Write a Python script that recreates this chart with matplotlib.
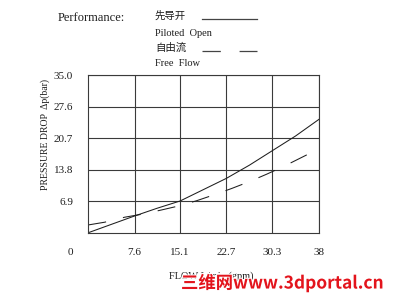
import matplotlib
matplotlib.use('Agg')
import matplotlib.pyplot as plt
import matplotlib.patheffects as pe
from matplotlib.lines import Line2D

plt.rcParams['font.family'] = ['Liberation Serif', 'Noto Sans CJK SC', 'DejaVu Sans']
plt.rcParams['lines.scale_dashes'] = False

# data
x_ticks = [7.6, 15.1, 22.7, 30.3, 38]
x_labels = ['7.6', '15.1', '22.7', '30.3', '38']
y_ticks = [6.9, 13.8, 20.7, 27.6, 34.5]
y_labels = ['6.9', '13.8', '20.7', '27.6', '35.0']

pilot_x = [0, 7.6, 11.3, 15.1, 22.7, 26.5, 30.3, 34.1, 38]
pilot_y = [0, 3.66, 5.35, 6.95, 11.9, 14.8, 18.0, 21.2, 24.9]

free_x = [0, 2.7, 6.0, 9.05, 12.1, 15.0, 17.8, 20.9, 23.6, 26.5, 29.3, 32.1, 34.8, 37.5]
free_y = [1.7, 2.3, 3.4, 4.1, 5.0, 5.9, 7.0, 8.4, 9.7, 11.2, 12.8, 14.5, 16.3, 18.1]

W, H = 401, 294
fig = plt.figure(figsize=(W / 100, H / 100), dpi=100)
ax = fig.add_axes([88.3 / W, 1 - 232.7 / H, 231 / W, 157.4 / H])

ink = '#1e1e1e'
grid_c = '#3a3a3a'

ax.plot(pilot_x, pilot_y, color=ink, lw=0.75)
ax.plot(free_x, free_y, color=ink, lw=0.75, dashes=(13, 12.5))

ax.set_xlim(0, 38)
ax.set_ylim(0, 34.5)
ax.set_xticks(x_ticks)
ax.set_xticklabels(x_labels)
ax.set_yticks(y_ticks)
ax.set_yticklabels(y_labels)
ax.tick_params(length=0, labelsize=8, colors=ink)
ax.tick_params(axis='x', pad=11)
ax.tick_params(axis='y', pad=11)
ax.grid(True, color=grid_c, lw=0.8)
for s in ax.spines.values():
    s.set_color(grid_c)
    s.set_linewidth(0.8)

# the lone "0" at the corner
ax.annotate('0', xy=(0, 0), xytext=(-13.2, -13.9), textcoords='offset points',
            ha='center', va='center', fontsize=8, color=ink)

fig.text(45 / W, 1 - 135 / H, 'PRESSURE DROP  \u0394p(bar)', rotation=90,
         ha='center', va='center', fontsize=7, color=ink)
fig.text(211 / W, 1 - 276 / H, 'FLOW L/min (gpm)', ha='center', va='center',
         fontsize=7.5, color=ink)

# header / legend block
fig.text(58 / W, 1 - 18 / H, 'Performance:', ha='left', va='center', fontsize=9, color=ink)
fig.text(155 / W, 1 - 16 / H, '先导开', ha='left', va='center', fontsize=7.5, color=ink,
         family=['Noto Sans CJK SC'])
fig.text(155 / W, 1 - 33 / H, 'Piloted  Open', ha='left', va='center', fontsize=7.5, color=ink)
fig.text(155 / W, 1 - 48 / H, '自由流', ha='left', va='center', fontsize=7.5, color=ink,
         family=['Noto Sans CJK SC'])
fig.text(155 / W, 1 - 63 / H, 'Free  Flow', ha='left', va='center', fontsize=7.5, color=ink)

fig.add_artist(Line2D([201.7 / W, 256.7 / W], [1 - 18.5 / H, 1 - 18.5 / H],
                      color='#444444', lw=0.9))
fig.add_artist(Line2D([201.7 / W, 256.7 / W], [1 - 51 / H, 1 - 51 / H],
                      color='#444444', lw=0.9, dashes=(13.2, 13.5)))

# site watermark
fig.text(181 / W, 1 - 283 / H, '三维网www.3dportal.cn', ha='left', va='center',
         fontsize=12.5, color='#e3141c', fontweight='bold',
         family=['Noto Sans CJK SC', 'DejaVu Sans'],
         path_effects=[pe.withStroke(linewidth=1.5, foreground='white')])

fig.savefig('out.png', dpi=100)
